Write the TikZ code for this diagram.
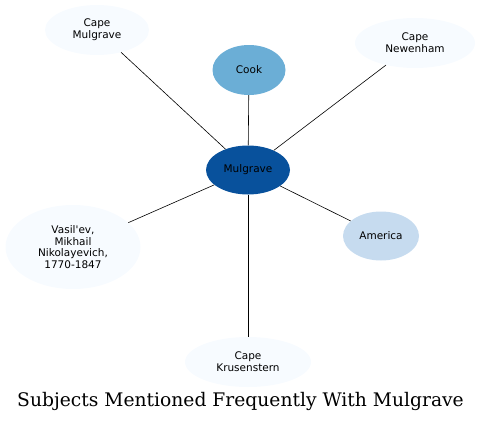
\documentclass[tikz,border=0pt]{standalone}
\usepackage{fontspec}
\setmainfont{DejaVu Serif}
\newfontfamily\nodefont{DejaVu Sans}
\usetikzlibrary{shapes.geometric}
\definecolor{cdark}{HTML}{08519C}
\definecolor{cmid}{HTML}{6BAED6}
\definecolor{clight}{HTML}{C6DBEF}
\definecolor{cpale}{HTML}{F7FBFF}
\tikzset{
  ell/.style={ellipse, draw=none, inner sep=0pt, align=center, font=\nodefont\fontsize{10.5}{11.7}\selectfont},
  edge/.style={draw=black, line width=0.6pt}
}
\begin{document}
\begin{tikzpicture}[x=1pt,y=-1pt]
\useasboundingbox (0,0) rectangle (481,423);
\node[ell, fill=cpale, minimum width=104, minimum height=50] (cm) at (97,30) {Cape\\Mulgrave};
\node[ell, fill=cpale, minimum width=120, minimum height=50] (cn) at (415,43) {Cape\\Newenham};
\node[ell, fill=cmid, minimum width=73, minimum height=50] (cook) at (249,70) {Cook};
\node[ell, fill=cdark, minimum width=84, minimum height=49] (mul) at (248,170) {Mulgrave};
\node[ell, fill=cpale, minimum width=135, minimum height=84] (vas) at (73,247) {Vasil'ev,\\Mikhail\\Nikolayevich,\\1770-1847};
\node[ell, fill=clight, minimum width=76, minimum height=49] (am) at (381,236) {America};
\node[ell, fill=cpale, minimum width=126, minimum height=50] (ck) at (248,362) {Cape\\Krusenstern};
\node (title) at (240.5,401) {\fontsize{18.7}{21}\selectfont Subjects Mentioned Frequently With Mulgrave};
\draw[edge] (mul) -- (cm);
\draw[edge] (mul) -- (cn);
\draw[edge] (mul) -- (cook);
\draw[edge] (mul) -- (vas);
\draw[edge] (mul) -- (am);
\draw[edge] (mul) -- (ck);
\end{tikzpicture}
\end{document}
